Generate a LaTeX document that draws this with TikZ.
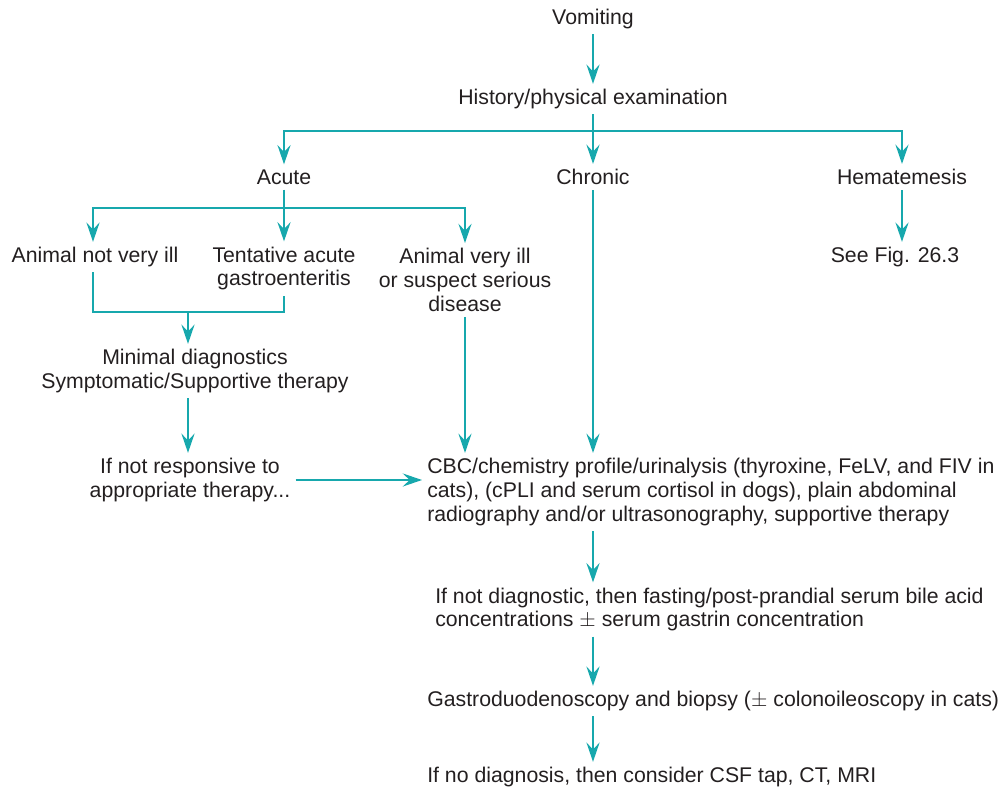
\documentclass[tikz,border=0pt]{standalone}
\usepackage{xcolor}
\usepackage{tikz}
\usepackage{fontspec}
\setmainfont{Liberation Sans}
\usetikzlibrary{arrows.meta,positioning,calc}
\definecolor{flowteal}{HTML}{17A8AD}
\definecolor{inkgrey}{HTML}{231F20}

\begin{document}
\begin{tikzpicture}[x=0.02cm,y=-0.02cm,
  txt/.style={font=\fontsize{12.1}{13.6}\selectfont,text=inkgrey,inner sep=0pt,outer sep=3pt,align=center,yshift=-0.04cm},
  ltxt/.style={txt,align=left},
  flow/.style={draw=flowteal,line width=0.9pt},
  arr/.style={flow,-{Stealth[length=11pt,width=7.5pt,inset=4pt]}}]
  \useasboundingbox (0,0) rectangle (1003,787);

  % Top of the chart
  \node[txt] (vom) at (593,17) {Vomiting};
  \node[txt] (hist) at (593,97) {History/physical examination};
  \draw[arr] (vom) -- (hist);

  % Three branches
  \node[txt] (acute) at (284,175) {Acute};
  \node[txt] (chron) at (593,175) {Chronic};
  \node[txt] (hema) at (902,175) {Hematemesis};
  \coordinate (j1) at (593,131);
  \draw[arr] (hist) -- (chron);
  \draw[arr] (j1) -| (acute);
  \draw[arr] (j1) -| (hema);

  % Hematemesis
  \node[txt] (seefig) at (895,255) {See Fig. 26.3};
  \draw[arr] (hema) -- (hema |- seefig.north);

  % Acute cases
  \node[txt] (notill) at (95,255) {Animal not very ill};
  \node[txt] (tent) at (284,266.5) {Tentative acute\\gastroenteritis};
  \node[txt] (veryill) at (465,278) {Animal very ill\\or suspect serious\\disease};
  \coordinate (j2) at (284,208);
  \draw[flow] (acute) -- (j2);
  \draw[arr] (j2) -- (tent);
  \draw[arr] (j2) -| ([xshift=-0.04cm]notill.north);
  \draw[arr] (j2) -| (veryill);

  % Mild cases
  \node[txt] (minimal) at (195,369) {Minimal diagnostics\\Symptomatic/Supportive therapy};
  \coordinate (j3) at (188,312);
  \draw[flow] ([xshift=-0.04cm]notill.south) |- (tent.south |- j3) -- (tent.south);
  \draw[arr] (j3) -- (j3 |- minimal.north);
  \node[txt] (notresp) at (190,478) {If not responsive to\\appropriate therapy...};
  \draw[arr] (j3 |- minimal.south) -- (j3 |- notresp.north);

  % Work-up
  \node[ltxt,anchor=west] (cbc) at (422,490) {CBC/chemistry profile/urinalysis (thyroxine, FeLV, and FIV in\\cats), (cPLI and serum cortisol in dogs), plain abdominal\\radiography and/or ultrasonography, supportive therapy};
  \draw[arr] (notresp.east) -- (cbc.west |- notresp.east);
  \draw[arr] (veryill) -- (veryill |- cbc.north);
  \draw[arr] (chron) -- (chron |- cbc.north);

  \node[ltxt,anchor=west] (fast) at (430,607.5) {If not diagnostic, then fasting/post-prandial serum bile acid\\concentrations $\pm$ serum gastrin concentration};
  \draw[arr] (chron |- cbc.south) -- (chron |- fast.north);

  \node[ltxt,anchor=west] (gastro) at (422,699) {Gastroduodenoscopy and biopsy ($\pm$ colonoileoscopy in cats)};
  \draw[arr] (chron |- fast.south) -- (chron |- gastro.north);

  \node[ltxt,anchor=west] (nodiag) at (422,775) {If no diagnosis, then consider CSF tap, CT, MRI};
  \draw[arr] (chron |- gastro.south) -- (chron |- nodiag.north);
\end{tikzpicture}
\end{document}
